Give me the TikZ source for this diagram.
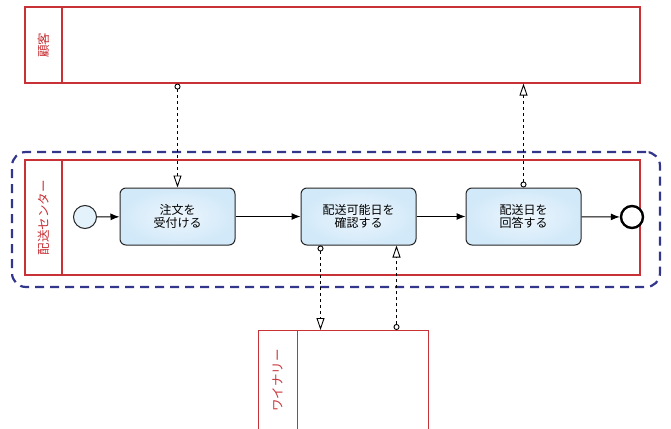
\documentclass[tikz,border=0pt]{standalone}
\usepackage{fontspec}
\usepackage{xcolor}
\usepackage{tikz}
\usetikzlibrary{arrows.meta,positioning,calc}
\newfontfamily\jpfont{Noto Sans CJK JP}
\definecolor{poolred}{RGB}{200,50,55}
\definecolor{taskblue}{RGB}{210,233,249}
\definecolor{groupblue}{RGB}{50,55,140}

\begin{document}
\begin{tikzpicture}[x=1pt, y=-1pt, every node/.style={font=\jpfont}]
  % styles for the pools, tasks and flows
  \tikzstyle{pool} = [rectangle, draw=poolred, line width=1.2pt, inner sep=0pt]
  \tikzstyle{lanehead} = [rectangle, draw=poolred, line width=1.2pt, inner sep=0pt, text=poolred, font=\jpfont\fontsize{12.5}{14}\selectfont]
  \tikzstyle{task} = [rectangle, rounded corners=6pt, draw=black!85, line width=1pt, inner color=taskblue!40, outer color=taskblue, minimum width=115pt, minimum height=57pt, align=center, font=\jpfont\fontsize{12}{13.5}\selectfont]
  \tikzstyle{seqflow} = [-{Latex[length=9pt, width=7pt]}, line width=1pt]
  \tikzstyle{msgflow} = [{Circle[open, length=6pt, width=6pt]}-{Triangle[open, length=12pt, width=8pt]}, dashed, line width=0.9pt]

  \useasboundingbox (0,0) rectangle (671,428);

  % Customer pool
  \node[pool, minimum width=615pt, minimum height=76pt] (kokyaku) at (332.5, 45) {};
  \node[lanehead, minimum width=37pt, minimum height=76pt] (kokyakuhead) at (43.5, 45) {\rotatebox{90}{顧客}};

  % Group around the delivery center
  \node[draw=groupblue, line width=2.2pt, dash pattern=on 9pt off 6pt, rounded corners=14pt, minimum width=648pt, minimum height=135pt, inner sep=0pt] (group) at (336, 219.5) {};

  % Delivery center pool
  \node[pool, minimum width=615pt, minimum height=115pt] (center) at (332.5, 217.5) {};
  \node[lanehead, minimum width=37pt, minimum height=115pt] (centerhead) at (43.5, 217.5) {\rotatebox{90}{配送センター}};

  % Events and tasks
  \node[circle, draw=black!85, line width=1pt, fill=taskblue!60, minimum size=23pt, inner sep=0pt] (start) at (85, 217) {};
  \node[task] (task1) at (177.5, 216.5) {注文を\\受付ける};
  \node[task] (task2) at (358.5, 216.5) {配送可能日を\\確認する};
  \node[task] (task3) at (523.5, 216.5) {配送日を\\回答する};
  \node[circle, draw=black, line width=2.4pt, fill=white, minimum size=22pt, inner sep=0pt] (finish) at (632, 217) {};

  % Winery pool
  \begin{scope}
    \clip (0,0) rectangle (671,428);
    \node[pool, minimum width=170pt, minimum height=100pt, anchor=north west] (winery) at (258, 330) {};
    \node[lanehead, minimum width=39pt, minimum height=100pt, anchor=north west] (wineryhead) at (258, 330) {\rotatebox{90}{ワイナリー}};
  \end{scope}

  % Sequence flows
  \draw[seqflow] (start) -- (task1);
  \draw[seqflow] (task1) -- (task2);
  \draw[seqflow] (task2) -- (task3);
  \draw[seqflow] (task3) -- (finish);

  % Message flows
  \coordinate (w1) at ($(task2.south)+(-38,0)$);
  \coordinate (w2) at ($(task2.south)+(38,0)$);
  \draw[msgflow] (task1.north |- kokyaku.south) -- (task1.north);
  \draw[msgflow] (task3.north) -- (task3.north |- kokyaku.south);
  \draw[msgflow] (w1) -- (w1 |- winery.north);
  \draw[msgflow] (w2 |- winery.north) -- (w2);

\end{tikzpicture}
\end{document}
